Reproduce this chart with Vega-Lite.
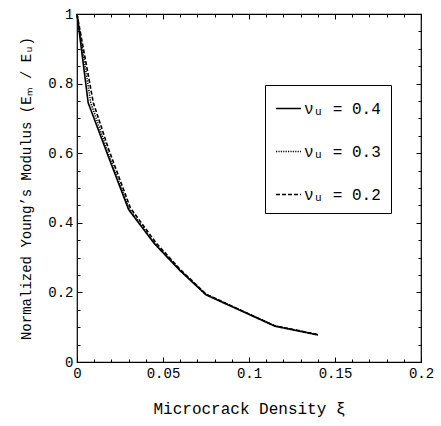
{
  "$schema": "https://vega.github.io/schema/vega-lite/v6.json",
  "width": 344,
  "height": 348,
  "autosize": {"type": "none"},
  "padding": {"left": 77, "top": 14, "right": 20, "bottom": 64},
  "background": "white",
  "config": {
    "view": {"stroke": "black", "strokeWidth": 1.2},
    "font": "Liberation Mono",
    "axis": {
      "domain": false,
      "grid": false,
      "tickColor": "black",
      "labelColor": "black",
      "titleColor": "black",
      "labelFont": "Liberation Mono",
      "titleFont": "Liberation Mono",
      "labelFontSize": 14,
      "titleFontSize": 14,
      "titleFontWeight": "normal",
      "tickWidth": 1
    }
  },
  "data": {
    "values": [
      {"nu": "νᵤ = 0.4", "xi": 0, "E": 1},
      {"nu": "νᵤ = 0.4", "xi": 0.0065, "E": 0.745},
      {"nu": "νᵤ = 0.4", "xi": 0.0175, "E": 0.6},
      {"nu": "νᵤ = 0.4", "xi": 0.03, "E": 0.438},
      {"nu": "νᵤ = 0.4", "xi": 0.045, "E": 0.34},
      {"nu": "νᵤ = 0.4", "xi": 0.06, "E": 0.262},
      {"nu": "νᵤ = 0.4", "xi": 0.075, "E": 0.193},
      {"nu": "νᵤ = 0.4", "xi": 0.115, "E": 0.103},
      {"nu": "νᵤ = 0.4", "xi": 0.14, "E": 0.078},
      {"nu": "νᵤ = 0.3", "xi": 0, "E": 1},
      {"nu": "νᵤ = 0.3", "xi": 0.008, "E": 0.745},
      {"nu": "νᵤ = 0.3", "xi": 0.0178, "E": 0.605},
      {"nu": "νᵤ = 0.3", "xi": 0.0303, "E": 0.44},
      {"nu": "νᵤ = 0.3", "xi": 0.045, "E": 0.342},
      {"nu": "νᵤ = 0.3", "xi": 0.06, "E": 0.264},
      {"nu": "νᵤ = 0.3", "xi": 0.075, "E": 0.194},
      {"nu": "νᵤ = 0.3", "xi": 0.115, "E": 0.104},
      {"nu": "νᵤ = 0.3", "xi": 0.14, "E": 0.078},
      {"nu": "νᵤ = 0.2", "xi": 0, "E": 1},
      {"nu": "νᵤ = 0.2", "xi": 0.0095, "E": 0.745},
      {"nu": "νᵤ = 0.2", "xi": 0.0185, "E": 0.61},
      {"nu": "νᵤ = 0.2", "xi": 0.031, "E": 0.443},
      {"nu": "νᵤ = 0.2", "xi": 0.046, "E": 0.342},
      {"nu": "νᵤ = 0.2", "xi": 0.06, "E": 0.266},
      {"nu": "νᵤ = 0.2", "xi": 0.075, "E": 0.195},
      {"nu": "νᵤ = 0.2", "xi": 0.115, "E": 0.104},
      {"nu": "νᵤ = 0.2", "xi": 0.14, "E": 0.079}
    ]
  },
  "layer": [
    {
      "mark": {"type": "line", "color": "black", "strokeWidth": 1.6},
      "encoding": {
        "x": {
          "field": "xi", "type": "quantitative",
          "scale": {"domain": [0, 0.2], "nice": false, "zero": false},
          "title": "Microcrack Density ξ",
          "axis": {
            "orient": "bottom",
            "values": [0,0.01,0.02,0.03,0.04,0.05,0.06,0.07,0.08,0.09,0.1,0.11,0.12,0.13,0.14,0.15,0.16,0.17,0.18,0.19,0.2],
            "labelExpr": "abs(datum.value*20 - round(datum.value*20)) < 1e-6 ? format(datum.value, '.2~f') : ''",
            "tickSize": {"condition": {"test": "abs(datum.value*20 - round(datum.value*20)) < 1e-6", "value": -5}, "value": -3},
            "labelPadding": 9,
            "labelFlush": false,
            "labelOverlap": false,
            "titlePadding": 18,
            "titleFontSize": 16
          }
        },
        "y": {
          "field": "E", "type": "quantitative",
          "scale": {"domain": [0, 1], "nice": false, "zero": false},
          "title": "Normalized Young’s Modulus (Eₘ / Eᵤ)",
          "axis": {
            "orient": "left",
            "values": [0,0.05,0.1,0.15,0.2,0.25,0.3,0.35,0.4,0.45,0.5,0.55,0.6,0.65,0.7,0.75,0.8,0.85,0.9,0.95,1],
            "labelExpr": "abs(datum.value*5 - round(datum.value*5)) < 1e-6 ? format(datum.value, '.1~f') : ''",
            "tickSize": {"condition": {"test": "abs(datum.value*5 - round(datum.value*5)) < 1e-6", "value": -5}, "value": -3},
            "labelPadding": 9,
            "labelFlush": false,
            "labelOverlap": false,
            "titlePadding": 14
          }
        },
        "strokeDash": {
          "field": "nu", "type": "nominal",
          "scale": {"domain": ["νᵤ = 0.4", "νᵤ = 0.3", "νᵤ = 0.2"], "range": [[1, 0], [1.2, 1.2], [4, 2]]},
          "legend": {
            "title": null,
            "orient": "none",
            "legendX": 188,
            "legendY": 71,
            "strokeColor": "black",
            "fillColor": "white",
            "padding": 10,
            "rowPadding": 21,
            "symbolType": "stroke",
            "symbolSize": 625,
            "symbolStrokeWidth": 1.6,
            "symbolStrokeColor": "black",
            "labelFont": "Liberation Mono",
            "labelFontSize": 16,
            "labelColor": "black",
            "labelOffset": 2,
            "labelLimit": 200
          }
        }
      }
    },
    {
      "mark": {"type": "line", "opacity": 0},
      "encoding": {
        "x": {
          "field": "xi", "type": "quantitative",
          "axis": {
            "orient": "top", "title": null, "labels": false,
            "values": [0,0.01,0.02,0.03,0.04,0.05,0.06,0.07,0.08,0.09,0.1,0.11,0.12,0.13,0.14,0.15,0.16,0.17,0.18,0.19,0.2],
            "tickSize": {"condition": {"test": "abs(datum.value*20 - round(datum.value*20)) < 1e-6", "value": -5}, "value": -3}
          }
        },
        "y": {
          "field": "E", "type": "quantitative",
          "axis": {
            "orient": "right", "title": null, "labels": false,
            "values": [0,0.05,0.1,0.15,0.2,0.25,0.3,0.35,0.4,0.45,0.5,0.55,0.6,0.65,0.7,0.75,0.8,0.85,0.9,0.95,1],
            "tickSize": {"condition": {"test": "abs(datum.value*5 - round(datum.value*5)) < 1e-6", "value": -5}, "value": -3}
          }
        },
        "detail": {"field": "nu", "type": "nominal"}
      }
    }
  ],
  "resolve": {"axis": {"x": "independent", "y": "independent"}}
}
